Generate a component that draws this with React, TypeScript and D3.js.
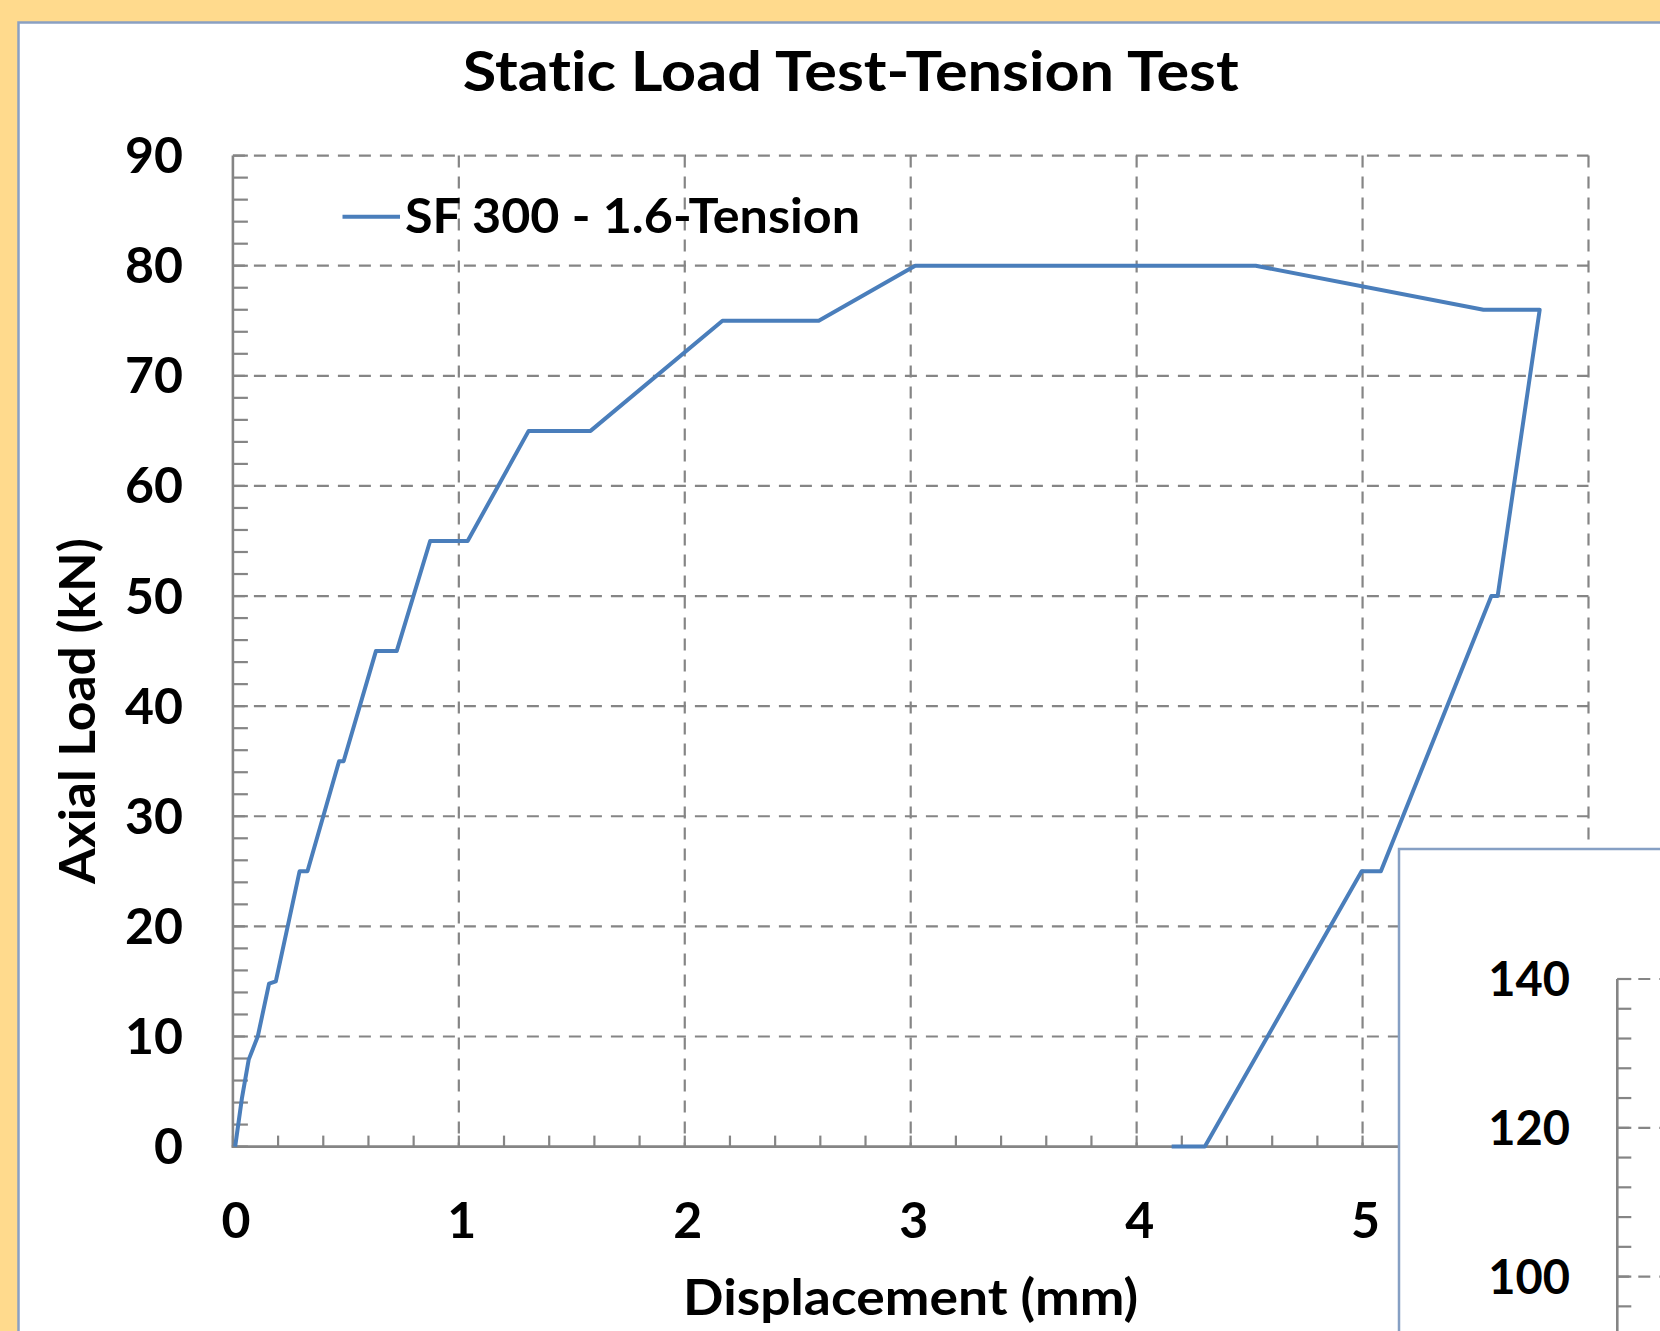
import React, { useEffect } from 'react';
import * as d3 from 'd3';

// ---- Data ----
const displacement = [0.01, 0.04, 0.07, 0.11, 0.16, 0.19, 0.295, 0.33, 0.47, 0.49, 0.633, 0.725, 0.873, 1.039, 1.309, 1.583, 2.167, 2.593, 3.02, 4.527, 5.535, 5.784, 5.598, 5.57, 5.081, 4.996, 4.302, 4.155];
const axialLoad = [0, 4.4, 7.9, 10, 14.8, 15, 25, 25, 35, 35, 45, 45, 55, 55, 65, 65, 75, 75, 80, 80, 76, 76, 50, 50, 25, 25, 0, 0];
const seriesName = 'SF 300 - 1.6-Tension';
const xTicks = [0, 1, 2, 3, 4, 5];
const xGrid = [1, 2, 3, 4, 5, 6];
const xMinor = d3.range(0, 6.0001, 0.2);
const yTicks = [0, 10, 20, 30, 40, 50, 60, 70, 80, 90];
const yMinor = d3.range(0, 90.0001, 2);
const insetTicks = [100, 120, 140];
const insetMinor = [96, 104, 108, 112, 116, 124, 128, 132, 136];

const titleText = 'Static Load Test-Tension Test';
const xTitle = 'Displacement (mm)';
const yTitle = 'Axial Load (kN)';

const W = 1660;
const H = 1331;
const FONT = 'Lato, "Open Sans", sans-serif';
const GRID = '#858585';
const LINE = '#4A7EBB';
const noLig: React.CSSProperties = { fontVariantLigatures: 'none', fontFeatureSettings: '"liga" 0, "clig" 0' };

export default function App() {
  useEffect(() => {
    document.body.style.margin = '0';
  }, []);

  const x = d3.scaleLinear().domain([0, 6]).range([232.9, 1588.5]);
  const y = d3.scaleLinear().domain([0, 90]).range([1146.6, 155.6]);
  const yi = d3.scaleLinear().domain([0, 140]).range([2020.6, 979]);
  const insetX = 1617.3;

  const pts = displacement.map((d, i) => [d, axialLoad[i]] as [number, number]);
  const path = d3
    .line<[number, number]>()
    .x((d) => x(d[0]))
    .y((d) => y(d[1]))(pts) as string;

  const dash = '12 9';

  return (
    <div style={{ position: 'absolute', left: 0, top: 0, width: W, height: H, overflow: 'hidden' }}>
      <svg width={W} height={H} viewBox={`0 0 ${W} ${H}`} style={{ display: 'block' }}>
        <rect x={0} y={0} width={W} height={H} fill="#FFDA8D" />
        <rect x={18.5} y={22.5} width={2000} height={2000} fill="#FFFFFF" stroke="#8AA0C2" strokeWidth={2.5} />

        {/* Title */}
        <text x={850.7} y={90.5} style={noLig} fontFamily={FONT} fontWeight={700} fontSize={56} textAnchor="middle" textLength={776} lengthAdjust="spacingAndGlyphs" fill="#000">
          {titleText}
        </text>

        {/* Horizontal gridlines */}
        {yTicks.filter((t) => t > 0).map((t) => (
          <line key={'hg' + t} x1={x(0)} x2={x(6)} y1={y(t)} y2={y(t)} stroke={GRID} strokeWidth={2.2} strokeDasharray={dash} />
        ))}
        {/* Vertical gridlines */}
        {xGrid.map((t) => (
          <line key={'vg' + t} x1={x(t)} x2={x(t)} y1={y(90)} y2={y(0)} stroke={GRID} strokeWidth={2.2} strokeDasharray={dash} />
        ))}

        {/* Minor ticks */}
        {yMinor.map((t) => (
          <line key={'ym' + t} x1={x(0)} x2={x(0) + 15} y1={y(t)} y2={y(t)} stroke={GRID} strokeWidth={2.2} />
        ))}
        {xMinor.map((t) => (
          <line key={'xm' + t.toFixed(1)} x1={x(t)} x2={x(t)} y1={y(0)} y2={y(0) - 11} stroke={GRID} strokeWidth={2.2} />
        ))}

        {/* Axes */}
        <line x1={x(0)} x2={x(0)} y1={y(90)} y2={y(0) + 1.2} stroke={GRID} strokeWidth={2.6} />
        <line x1={x(0) - 1.2} x2={x(6)} y1={y(0)} y2={y(0)} stroke={GRID} strokeWidth={2.6} />

        {/* Series */}
        <path d={path} fill="none" stroke={LINE} strokeWidth={4} strokeLinejoin="round" strokeLinecap="butt" />

        {/* Legend */}
        <line x1={342.5} x2={400} y1={216.7} y2={216.7} stroke={LINE} strokeWidth={4} />
        <text x={405} y={233} style={noLig} fontFamily={FONT} fontWeight={700} fontSize={47} textLength={455} lengthAdjust="spacingAndGlyphs" fill="#000">
          {seriesName}
        </text>

        {/* Y tick labels */}
        {yTicks.map((t) => (
          <text key={'yl' + t} x={183} y={y(t) + 17.5} fontFamily={FONT} fontWeight={700} fontSize={50} textAnchor="end" fill="#000">
            {t}
          </text>
        ))}
        {/* X tick labels */}
        {xTicks.map((t) => (
          <text key={'xl' + t} x={x(t) + 3} y={1238} fontFamily={FONT} fontWeight={700} fontSize={50} textAnchor="middle" fill="#000">
            {t}
          </text>
        ))}

        {/* Axis titles */}
        <text x={910.6} y={1315} style={noLig} fontFamily={FONT} fontWeight={700} fontSize={50} textAnchor="middle" textLength={455} lengthAdjust="spacingAndGlyphs" fill="#000">
          {xTitle}
        </text>
        <text transform="translate(95,711) rotate(-90)" x={0} y={0} style={noLig} fontFamily={FONT} fontWeight={700} fontSize={50} textAnchor="middle" textLength={346} lengthAdjust="spacingAndGlyphs" fill="#000">
          {yTitle}
        </text>

        {/* Inset chart panel (partially visible) */}
        <rect x={1399} y={849} width={600} height={800} fill="#FFFFFF" stroke="#86A0C4" strokeWidth={2.5} />
        {insetTicks.map((t) => (
          <line key={'ig' + t} x1={insetX} x2={W + 10} y1={yi(t)} y2={yi(t)} stroke={GRID} strokeWidth={2.2} strokeDasharray={dash} />
        ))}
        {insetMinor.map((t) => (
          <line key={'im' + t} x1={insetX} x2={insetX + 14} y1={yi(t)} y2={yi(t)} stroke={GRID} strokeWidth={2.2} />
        ))}
        {insetTicks.map((t) => (
          <line key={'it' + t} x1={insetX} x2={insetX + 14} y1={yi(t)} y2={yi(t)} stroke={GRID} strokeWidth={2.2} />
        ))}
        <line x1={insetX} x2={insetX} y1={yi(140)} y2={H + 10} stroke={GRID} strokeWidth={2.6} />
        {insetTicks.map((t) => (
          <text key={'il' + t} x={1570} y={yi(t) + 17} fontFamily={FONT} fontWeight={700} fontSize={47} textAnchor="end" fill="#000">
            {t}
          </text>
        ))}
      </svg>
    </div>
  );
}
